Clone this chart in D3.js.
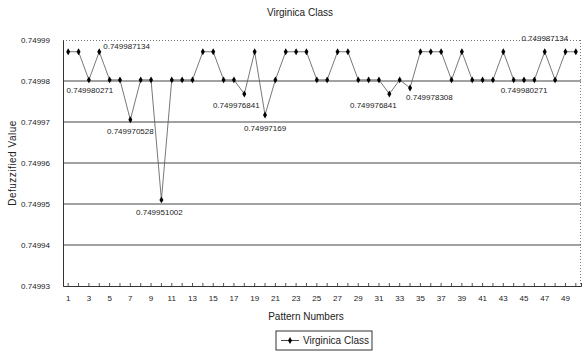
<!DOCTYPE html>
<html>
<head>
<meta charset="utf-8">
<script src="https://cdn.jsdelivr.net/npm/d3@7"></script>
<style>
  body { margin: 0; background: #fff; }
  text { font-family: "Liberation Sans", Arial, sans-serif; fill: #222; }
</style>
</head>
<body>
<div id="chart"></div>
<script>
var svgWidth = 586;
var svgHeight = 354;

var margin = { top: 40, right: 5, bottom: 68, left: 63 };
var width = svgWidth - margin.left - margin.right;
var height = svgHeight - margin.top - margin.bottom;

// data
var HI = 0.749987134;
var LO = 0.749980271;
var patterns = d3.range(1, 51);
var values = [
  HI, HI, LO, HI, LO, LO, 0.749970528, LO, LO, 0.749951002,
  LO, LO, LO, HI, HI, LO, LO, 0.749976841, HI, 0.74997169,
  LO, HI, HI, HI, LO, LO, HI, HI, LO, LO,
  LO, 0.749976841, LO, 0.749978308, HI, HI, HI, LO, HI, LO,
  LO, LO, HI, LO, LO, LO, HI, LO, HI, HI
];
var yTicks = [0.74993, 0.74994, 0.74995, 0.74996, 0.74997, 0.74998, 0.74999];
var labelPatterns = [3, 4, 7, 10, 18, 20, 32, 34, 45, 47];
var labelTexts = ["0.749980271", "0.749987134", "0.749970528", "0.749951002", "0.749976841",
  "0.74997169", "0.749976841", "0.749978308", "0.749980271", "0.749987134"];

var data = patterns.map((p, i) => ({ p: p, v: values[i] }));

var svg = d3.select("#chart")
  .append("svg")
  .attr("width", svgWidth)
  .attr("height", svgHeight);

var chartGroup = svg.append("g")
  .attr("transform", `translate(${margin.left}, ${margin.top})`);

var x = d3.scaleBand()
  .domain(patterns)
  .range([0, width]);

var y = d3.scaleLinear()
  .domain([0.74993, 0.74999])
  .range([height, 0]);

var cx = p => x(p) + x.bandwidth() / 2;

// gridlines
chartGroup.selectAll(".grid")
  .data(yTicks.slice(1, -1))
  .enter()
  .append("line")
  .attr("x1", 0)
  .attr("x2", width)
  .attr("y1", d => y(d))
  .attr("y2", d => y(d))
  .attr("stroke", "#444")
  .attr("stroke-width", 1);

// dotted frame top / right
chartGroup.append("line")
  .attr("x1", 0).attr("x2", width)
  .attr("y1", 0.5).attr("y2", 0.5)
  .attr("stroke", "#777")
  .attr("stroke-dasharray", "1,2");
chartGroup.append("line")
  .attr("x1", width - 0.5).attr("x2", width - 0.5)
  .attr("y1", 0).attr("y2", height)
  .attr("stroke", "#777")
  .attr("stroke-dasharray", "1,2");

// axes
var leftAxis = d3.axisLeft(y)
  .tickValues(yTicks)
  .tickSize(0)
  .tickPadding(13)
  .tickFormat(d3.format(".5f"));

var bottomAxis = d3.axisBottom(x)
  .tickSize(-3)
  .tickPadding(9)
  .tickFormat(d => d % 2 === 1 ? d : "");

var gy = chartGroup.append("g").call(leftAxis);
gy.select(".domain").attr("stroke", "#333");
gy.selectAll("text").attr("font-size", "8px").attr("fill", "#333");

var gx = chartGroup.append("g")
  .attr("transform", `translate(0, ${height})`)
  .call(bottomAxis);
gx.select(".domain").attr("stroke", "#333");
gx.selectAll("line").attr("stroke", "#555");
gx.selectAll("text").attr("font-size", "8px").attr("fill", "#333");

// line + markers
var line = d3.line()
  .x(d => cx(d.p))
  .y(d => y(d.v));

chartGroup.append("path")
  .datum(data)
  .attr("d", line)
  .attr("fill", "none")
  .attr("stroke", "#555")
  .attr("stroke-width", 0.8);

var diamond = d3.symbol().type(d3.symbolDiamond).size(14);

chartGroup.selectAll(".pt")
  .data(data)
  .enter()
  .append("path")
  .attr("d", diamond)
  .attr("transform", d => `translate(${cx(d.p)}, ${y(d.v)})`)
  .attr("fill", "#000");

// data labels
var labelOffsets = {
  3: [1, 13, "middle"], 4: [4, -3, "start"], 7: [0, 14, "middle"], 10: [-2, 15, "middle"],
  18: [-8, 14, "middle"], 20: [0, 16, "middle"], 32: [-16, 14, "middle"], 34: [-4, 12, "start"],
  45: [0, 13, "middle"], 47: [0, -11, "middle"]
};

chartGroup.selectAll(".lbl")
  .data(labelPatterns)
  .enter()
  .append("text")
  .attr("x", (p) => cx(p) + labelOffsets[p][0])
  .attr("y", (p) => y(values[p - 1]) + labelOffsets[p][1])
  .attr("text-anchor", p => labelOffsets[p][2])
  .attr("font-size", "8px")
  .attr("fill", "#333")
  .text((p, i) => labelTexts[i]);

// title and axis labels
svg.append("text")
  .attr("x", 300)
  .attr("y", 16)
  .attr("text-anchor", "middle")
  .attr("font-size", "10px")
  .text("Virginica Class");

svg.append("text")
  .attr("transform", "rotate(-90)")
  .attr("x", -(margin.top + height / 2))
  .attr("y", 16)
  .attr("text-anchor", "middle")
  .attr("font-size", "10px")
  .attr("letter-spacing", "0.5px")
  .text("Defuzzified Value");

svg.append("text")
  .attr("x", 306)
  .attr("y", 320)
  .attr("text-anchor", "middle")
  .attr("font-size", "10px")
  .text("Pattern Numbers");

// legend
var legend = svg.append("g").attr("transform", "translate(276, 331)");
legend.append("rect")
  .attr("width", 96)
  .attr("height", 19)
  .attr("fill", "#fff")
  .attr("stroke", "#333");
legend.append("line")
  .attr("x1", 5).attr("x2", 23)
  .attr("y1", 9.5).attr("y2", 9.5)
  .attr("stroke", "#444");
legend.append("path")
  .attr("d", diamond)
  .attr("transform", "translate(14, 9.5)")
  .attr("fill", "#000");
legend.append("text")
  .attr("x", 27)
  .attr("y", 13)
  .attr("font-size", "10px")
  .text("Virginica Class");
</script>
</body>
</html>
